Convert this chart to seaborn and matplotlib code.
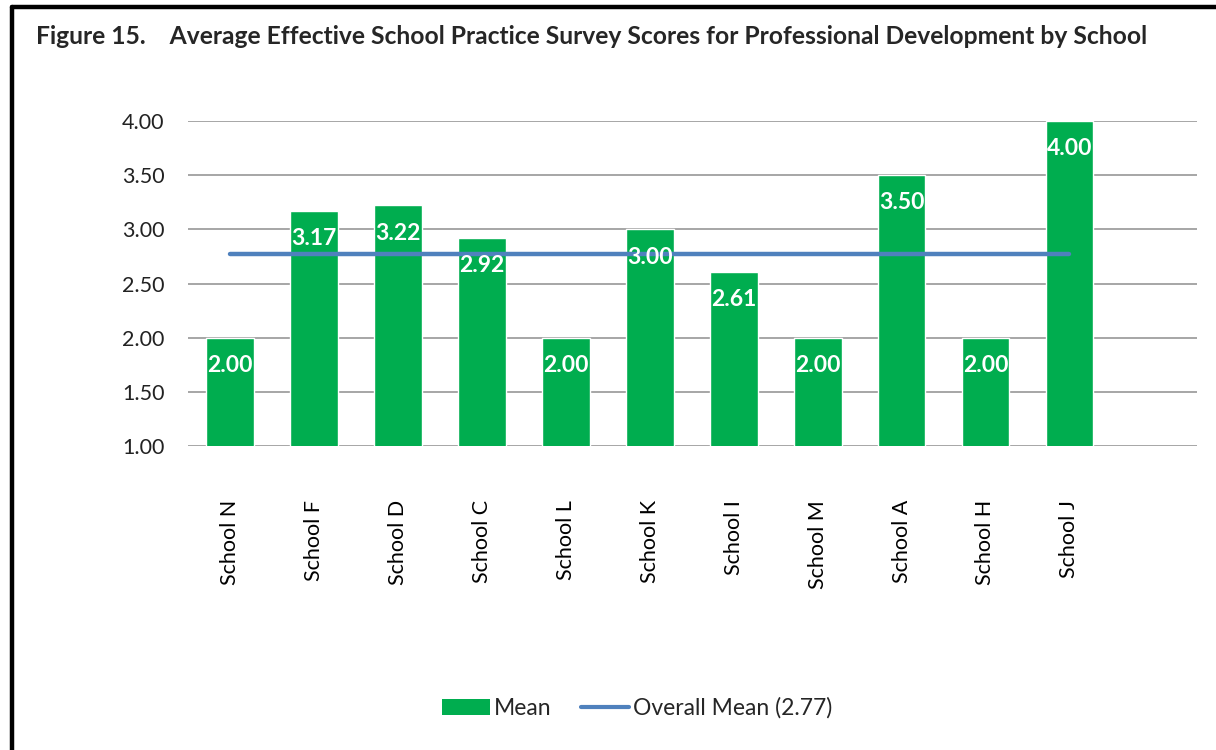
import pandas as pd
import numpy as np
import seaborn as sns
import matplotlib.pyplot as plt
from matplotlib.patches import Patch
from matplotlib.lines import Line2D

# data
schools = ['School N', 'School F', 'School D', 'School C', 'School L', 'School K',
           'School I', 'School M', 'School A', 'School H', 'School J']
means = [2.00, 3.17, 3.22, 2.92, 2.00, 3.00, 2.61, 2.00, 3.50, 2.00, 4.00]
overall_mean = 2.77

green = '#00AD4F'
blue = '#4F81BD'

sns.set_style('white')
plt.rcParams['font.family'] = ['Lato', 'DejaVu Sans']

df = pd.DataFrame({'school': schools, 'mean': means})

fig = plt.figure(figsize=(12.16, 7.5), dpi=100)
ax = fig.add_axes([0.1546, 0.4053, 0.8298, 0.4334])

sns.barplot(data=df, x='school', y='mean', color=green, width=0.57,
            saturation=1, ax=ax, zorder=2)

# overall mean line, centre of first bar to centre of last
ax.plot(np.arange(len(schools)), [overall_mean] * len(schools),
        color=blue, lw=3.2, solid_capstyle='round', zorder=3)

# value labels inside the bar tops
for i, v in enumerate(df['mean']):
    ax.annotate(f'{v:.2f}', xy=(i, v), xytext=(0, -20), textcoords='offset points',
                ha='center', va='center', color='white', fontsize=16.5,
                fontweight='bold', zorder=4)

ax.set_ylim(1, 4)
# category band stops short of the gridlines on the right
ax.set_xlim(-0.5, len(schools) + 0.52)
ax.set_yticks(np.arange(1, 4.01, 0.5))
ax.set_yticklabels([f'{t:.2f}' for t in np.arange(1, 4.01, 0.5)])
ax.yaxis.grid(True, color='#A6A6A6', lw=1.4, zorder=0)
ax.set_axisbelow(True)
for s in ax.spines.values():
    s.set_visible(False)
ax.set_xlabel('')
ax.set_ylabel('')
ax.tick_params(axis='y', labelsize=15.5, colors='#222222', pad=17, length=0)
ax.tick_params(axis='x', labelsize=15.5, colors='black', pad=39, length=0,
               labelrotation=90)

fig.text(0.030, 0.952, 'Figure 15.    Average Effective School Practice Survey Scores '
         'for Professional Development by School', fontsize=17.7, fontweight='bold',
         ha='left', va='center')

handles = [Patch(facecolor=green, edgecolor='none', label='Mean'),
           Line2D([0], [0], color=blue, lw=3, label='Overall Mean (2.77)')]
fig.legend(handles=handles, loc='center', bbox_to_anchor=(0.524, 0.056), ncol=2,
           frameon=False, fontsize=16.5, handlelength=2.1, handletextpad=0.15,
           columnspacing=1.3)

# page-style frame: top and left lines
fig.add_artist(Line2D([0.0095, 1.0], [0.991, 0.991], color='black', lw=3.2,
                      transform=fig.transFigure))
fig.add_artist(Line2D([0.0095, 0.0095], [0.0, 0.991], color='black', lw=3.2,
                      transform=fig.transFigure))

fig.savefig('out.png', dpi=100)
